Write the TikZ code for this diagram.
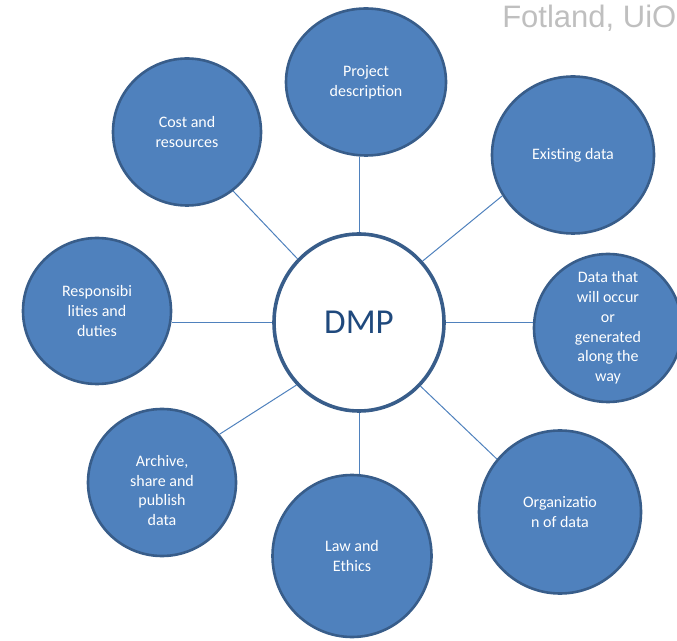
\documentclass[tikz,border=0pt]{standalone}
\usepackage{fontspec}
\setmainfont{Carlito}
\newfontfamily\credfont{Liberation Sans}
\usetikzlibrary{shapes.geometric}
\definecolor{bubblefill}{HTML}{4F81BD}
\definecolor{bubbleedge}{HTML}{385D8A}
\definecolor{hubtext}{HTML}{1F497D}
\definecolor{credgray}{HTML}{BFBFBF}
\begin{document}
\begin{tikzpicture}[x=1pt,y=1pt,
  bubble/.style={ellipse, draw=bubbleedge, line width=2.6pt, fill=bubblefill, inner sep=0pt},
  btext/.style={text=white, align=center, inner sep=0pt, font=\fontsize{16}{19.8}\selectfont},
  hub/.style={ellipse, draw=bubbleedge, line width=3.6pt, fill=white, inner sep=0pt,
              minimum width=170pt, minimum height=177pt, text=hubtext,
              font=\fontsize{35}{40}\selectfont},
  link/.style={draw=bubblefill, line width=1pt}]
\useasboundingbox (0,0) rectangle (677,640);

% credit line
\node[anchor=base east, inner sep=0pt, text=credgray, font=\credfont\fontsize{31}{36}\selectfont]
  (credit) at (676.5,612) {Fotland, UiO};

% central hub
\node[hub] (dmp) at (359,317.5) {DMP};

% surrounding topics
\node[bubble, minimum width=160pt, minimum height=147pt] (pd)   at (366,558) {};
\node[bubble, minimum width=162pt, minimum height=157pt] (ex)   at (573,485) {};
\node[bubble, minimum width=148pt, minimum height=148pt] (dat)  at (608,312) {};
\node[bubble, minimum width=162pt, minimum height=163pt] (org)  at (560,128) {};
\node[bubble, minimum width=159pt, minimum height=162pt] (law)  at (352,84)  {};
\node[bubble, minimum width=148pt, minimum height=147pt] (arch) at (162,157.5) {};
\node[bubble, minimum width=148pt, minimum height=146pt] (resp) at (97,329)  {};
\node[bubble, minimum width=148pt, minimum height=147pt] (cost) at (187,508) {};

% topic labels
\node[btext] (pdt)   at (pd)   {Project\\description};
\node[btext] (ext)   at (ex)   {Existing data};
\node[btext] (datt)  at (dat)  {Data that\\will occur\\or\\generated\\along the\\way};
\node[btext] (orgt)  at (org)  {Organizatio\\n of data};
\node[btext] (lawt)  at (law)  {Law and\\Ethics};
\node[btext] (archt) at ([yshift=-8pt]arch.center) {Archive,\\share and\\publish\\data};
\node[btext] (respt) at (resp) {Responsibi\\lities and\\duties};
\node[btext] (costt) at (cost) {Cost and\\resources};

% spokes from the hub
\draw[link] (dmp.90)  -- (dmp.90 |- pd.south);
\draw[link] (dmp.270) -- (dmp.270 |- law.north);
\draw[link] (dmp.180) -- (dmp.180 -| resp.east);
\draw[link] (dmp.0)   -- (dmp.0 -| dat.west);
\draw[link] (dmp.134.6) -- (cost.-52);
\draw[link] (dmp.44.3)  -- (ex.210.3);
\draw[link] (dmp.225.7) -- (arch.40.2);
\draw[link] (dmp.-46.1) -- (org.140.2);
\end{tikzpicture}
\end{document}
